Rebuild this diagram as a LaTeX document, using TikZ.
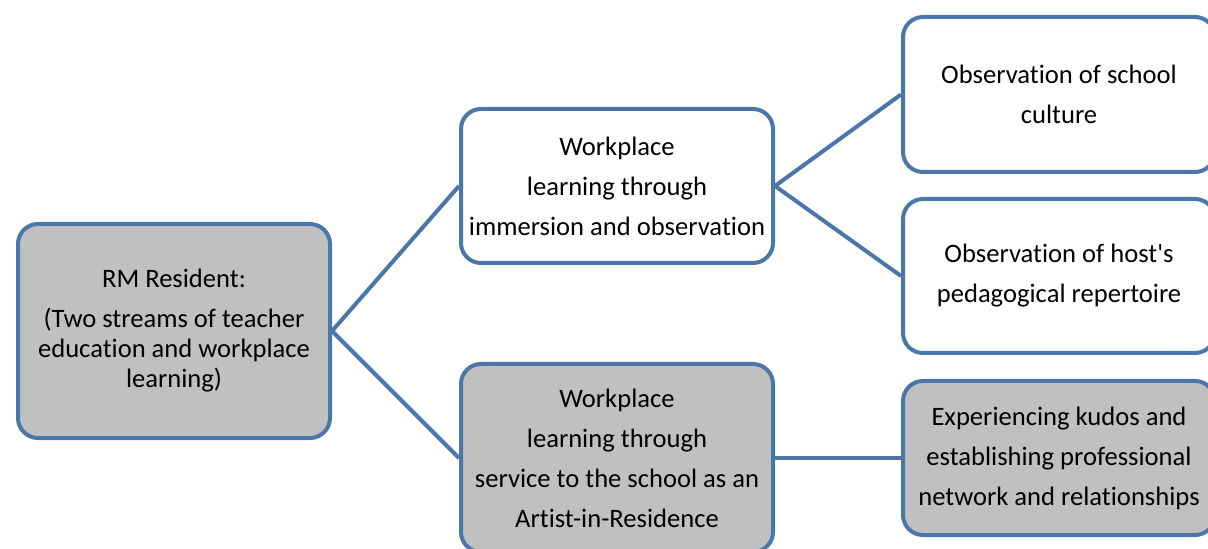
\documentclass[tikz,border=0pt]{standalone}
\usepackage{fontspec}
\setmainfont{Carlito}[Ligatures=NoCommon]
\usepackage{tikz}
\usetikzlibrary{positioning}

\definecolor{edgeblue}{RGB}{74,118,170}
\definecolor{boxgray}{RGB}{192,192,192}

\begin{document}
\begin{tikzpicture} [x=0.5pt, y=-0.5pt,
    box/.style={rectangle, rounded corners=10pt, draw=edgeblue, line width=2pt, fill=white,
                minimum width=156pt, inner sep=0pt, align=center,
                font=\fontsize{13.3pt}{20pt}\selectfont},
    link/.style={draw=edgeblue, line width=2pt}]
\useasboundingbox (0,0) rectangle (1208,549);
\node (rm) [box, fill=boxgray, minimum height=107pt, font=\fontsize{13.3pt}{15pt}\selectfont] at (174,331)
    {RM Resident:\\[5pt] (Two streams of teacher\\ education and workplace\\ learning)};
\node (imm) [box, minimum height=77pt] at (617,186)
    {Workplace\\ learning through\\ immersion and observation};
\node (serv) [box, fill=boxgray, minimum height=94pt] at (617,458)
    {Workplace\\ learning through\\ service to the school as an\\ Artist-in-Residence};
\node (cult) [box, minimum height=77.5pt] at (1059,94.5)
    {Observation of school\\ culture};
\node (rep) [box, minimum height=77pt] at (1059,276)
    {Observation of host\textquotesingle s\\ pedagogical repertoire};
\node (kudos) [box, fill=boxgray, minimum height=77pt] at (1059,458)
    {Experiencing kudos and\\ establishing professional\\ network and relationships};
\path [link]
    (rm.east) edge (imm.west)
    (rm.east) edge (serv.west)
    (imm.east) edge (cult.west)
    (imm.east) edge (rep.west)
    (serv.east) edge (kudos.west);
\end{tikzpicture}
\end{document}
